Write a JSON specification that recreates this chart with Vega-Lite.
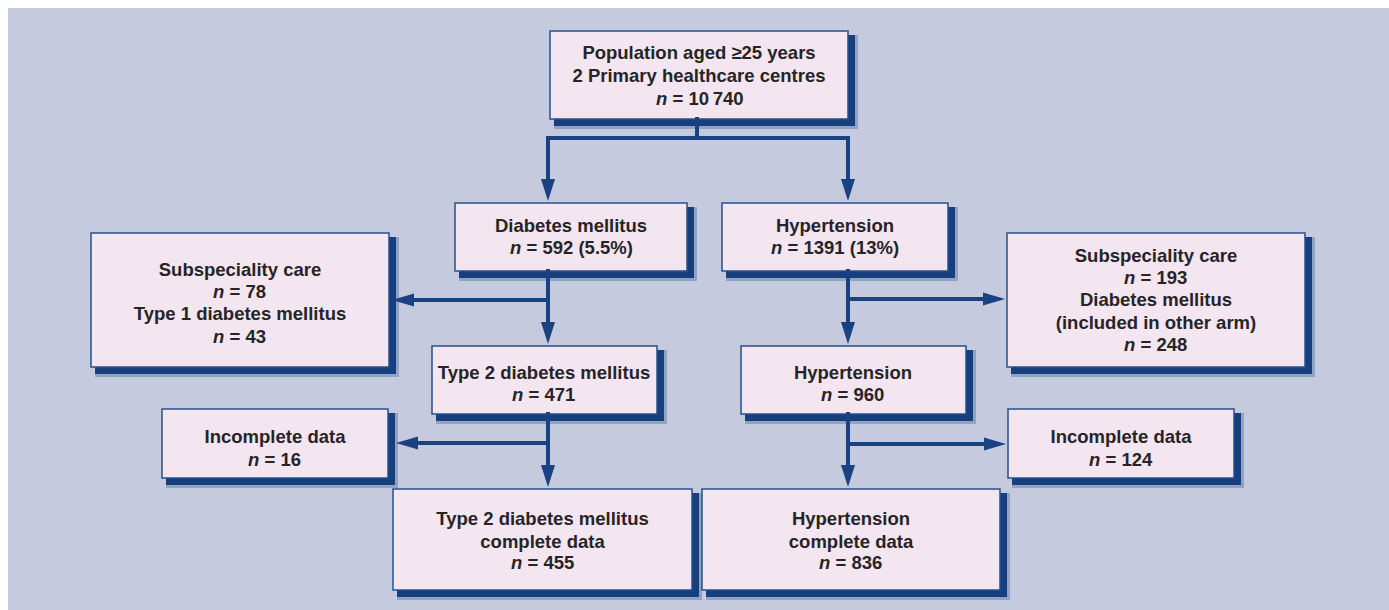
{
  "$schema": "https://vega.github.io/schema/vega-lite/v6.json",
  "width": 1389,
  "height": 610,
  "padding": 0,
  "autosize": {"type": "fit", "contains": "padding"},
  "background": "#ffffff",
  "config": {"view": {"stroke": null}},
  "datasets": {
    "panel": [{"x1": 8, "x2": 1389, "y1": 8, "y2": 610}],
    "boxes": [
      {"id": "A", "x1": 550, "x2": 848, "y1": 31, "y2": 119},
      {"id": "B", "x1": 455, "x2": 687, "y1": 203, "y2": 271},
      {"id": "C", "x1": 722, "x2": 948, "y1": 203, "y2": 271},
      {"id": "D", "x1": 91, "x2": 389, "y1": 233, "y2": 367},
      {"id": "E", "x1": 432, "x2": 657, "y1": 346, "y2": 414},
      {"id": "F", "x1": 741, "x2": 966, "y1": 346, "y2": 414},
      {"id": "G", "x1": 1007, "x2": 1305, "y1": 233, "y2": 367},
      {"id": "H", "x1": 162, "x2": 388, "y1": 409, "y2": 478},
      {"id": "I", "x1": 1008, "x2": 1234, "y1": 409, "y2": 478},
      {"id": "J", "x1": 393, "x2": 692, "y1": 489, "y2": 590},
      {"id": "K", "x1": 702, "x2": 1000, "y1": 489, "y2": 590}
    ],
    "lines": [
      {"x1": 697, "y1": 119, "x2": 697, "y2": 138},
      {"x1": 548, "y1": 138, "x2": 848, "y2": 138},
      {"x1": 548, "y1": 138, "x2": 548, "y2": 190},
      {"x1": 848, "y1": 138, "x2": 848, "y2": 190},
      {"x1": 548, "y1": 271, "x2": 548, "y2": 334},
      {"x1": 548, "y1": 300, "x2": 404, "y2": 300},
      {"x1": 848, "y1": 271, "x2": 848, "y2": 334},
      {"x1": 848, "y1": 299, "x2": 994, "y2": 299},
      {"x1": 548, "y1": 414, "x2": 548, "y2": 477},
      {"x1": 548, "y1": 443, "x2": 407, "y2": 443},
      {"x1": 848, "y1": 414, "x2": 848, "y2": 477},
      {"x1": 848, "y1": 444, "x2": 995, "y2": 444}
    ],
    "arrows": [
      {"x": 548, "y": 201, "dir": "down"},
      {"x": 848, "y": 201, "dir": "down"},
      {"x": 548, "y": 344, "dir": "down"},
      {"x": 848, "y": 344, "dir": "down"},
      {"x": 548, "y": 487, "dir": "down"},
      {"x": 848, "y": 487, "dir": "down"},
      {"x": 392, "y": 300, "dir": "left"},
      {"x": 396, "y": 443, "dir": "left"},
      {"x": 1005, "y": 299, "dir": "right"},
      {"x": 1006, "y": 444, "dir": "right"}
    ],
    "labels": [
      {"x": 699, "y": 53, "text": "Population aged ≥25 years"},
      {"x": 699, "y": 76, "text": "2 Primary healthcare centres"},
      {"x": 571, "y": 226, "text": "Diabetes mellitus"},
      {"x": 835, "y": 226, "text": "Hypertension"},
      {"x": 240, "y": 270, "text": "Subspeciality care"},
      {"x": 240, "y": 314, "text": "Type 1 diabetes mellitus"},
      {"x": 544, "y": 373, "text": "Type 2 diabetes mellitus"},
      {"x": 853, "y": 373, "text": "Hypertension"},
      {"x": 1156, "y": 256, "text": "Subspeciality care"},
      {"x": 1156, "y": 300, "text": "Diabetes mellitus"},
      {"x": 1156, "y": 323, "text": "(included in other arm)"},
      {"x": 275, "y": 437, "text": "Incomplete data"},
      {"x": 1121, "y": 437, "text": "Incomplete data"},
      {"x": 542.5, "y": 519, "text": "Type 2 diabetes mellitus"},
      {"x": 542.5, "y": 542, "text": "complete data"},
      {"x": 851, "y": 519, "text": "Hypertension"},
      {"x": 851, "y": 542, "text": "complete data"}
    ],
    "nlabels": [
      {"x": 656, "y": 99, "rest": "= 10\u2009740"},
      {"x": 510, "y": 248, "rest": "= 592 (5.5%)"},
      {"x": 771, "y": 248, "rest": "= 1391 (13%)"},
      {"x": 213, "y": 292, "rest": "= 78"},
      {"x": 213, "y": 337, "rest": "= 43"},
      {"x": 512, "y": 395, "rest": "= 471"},
      {"x": 821, "y": 395, "rest": "= 960"},
      {"x": 1124, "y": 278, "rest": "= 193"},
      {"x": 1124, "y": 345, "rest": "= 248"},
      {"x": 248, "y": 460, "rest": "= 16"},
      {"x": 1089, "y": 460, "rest": "= 124"},
      {"x": 511, "y": 563, "rest": "= 455"},
      {"x": 819, "y": 563, "rest": "= 836"}
    ]
  },
  "layer": [
    {
      "data": {"name": "panel"},
      "mark": {"type": "rect", "color": "#c5cadf"},
      "encoding": {
        "x": {"field": "x1", "type": "quantitative", "scale": {"domain": [0, 1389], "nice": false, "zero": false}, "axis": null},
        "x2": {"field": "x2"},
        "y": {"field": "y1", "type": "quantitative", "scale": {"domain": [0, 610], "nice": false, "zero": false, "reverse": true}, "axis": null},
        "y2": {"field": "y2"}
      }
    },
    {
      "data": {"name": "boxes"},
      "mark": {"type": "rect", "color": "#1b4583", "opacity": 0.3, "xOffset": 4, "x2Offset": 10, "yOffset": 4, "y2Offset": 10},
      "encoding": {
        "x": {"field": "x1", "type": "quantitative"},
        "x2": {"field": "x2"},
        "y": {"field": "y1", "type": "quantitative"},
        "y2": {"field": "y2"}
      }
    },
    {
      "data": {"name": "boxes"},
      "mark": {"type": "rect", "color": "#173f7d", "opacity": 1, "xOffset": 4, "x2Offset": 7, "yOffset": 4, "y2Offset": 7},
      "encoding": {
        "x": {"field": "x1", "type": "quantitative"},
        "x2": {"field": "x2"},
        "y": {"field": "y1", "type": "quantitative"},
        "y2": {"field": "y2"}
      }
    },
    {
      "data": {"name": "boxes"},
      "mark": {"type": "rect", "fill": "#f3e6f0", "stroke": "#24528c", "strokeWidth": 1.5},
      "encoding": {
        "x": {"field": "x1", "type": "quantitative"},
        "x2": {"field": "x2"},
        "y": {"field": "y1", "type": "quantitative"},
        "y2": {"field": "y2"}
      }
    },
    {
      "data": {"name": "lines"},
      "mark": {"type": "rule", "color": "#1a4280", "strokeWidth": 4, "strokeCap": "square"},
      "encoding": {
        "x": {"field": "x1", "type": "quantitative"},
        "x2": {"field": "x2"},
        "y": {"field": "y1", "type": "quantitative"},
        "y2": {"field": "y2"}
      }
    },
    {
      "data": {"name": "arrows"},
      "mark": {"type": "point", "filled": true, "opacity": 1, "size": 484, "color": "#1a4280", "strokeWidth": 0},
      "encoding": {
        "x": {"field": "x", "type": "quantitative"},
        "y": {"field": "y", "type": "quantitative"},
        "shape": {
          "field": "dir",
          "type": "nominal",
          "legend": null,
          "scale": {
            "domain": ["down", "left", "right"],
            "range": ["M 0 0 L -0.636 -2 L 0.636 -2 Z", "M 0 0 L 2 -0.6 L 2 0.6 Z", "M 0 0 L -2 -0.6 L -2 0.6 Z"]
          }
        }
      }
    },
    {
      "data": {"name": "labels"},
      "mark": {"type": "text", "font": "Liberation Sans", "fontWeight": "bold", "fontSize": 18.5, "color": "#262427", "align": "center", "baseline": "middle"},
      "encoding": {
        "x": {"field": "x", "type": "quantitative"},
        "y": {"field": "y", "type": "quantitative"},
        "text": {"field": "text"}
      }
    },
    {
      "data": {"name": "nlabels"},
      "mark": {"type": "text", "font": "Liberation Sans", "fontWeight": "bold", "fontStyle": "italic", "fontSize": 18.5, "color": "#262427", "align": "left", "baseline": "middle"},
      "encoding": {
        "x": {"field": "x", "type": "quantitative"},
        "y": {"field": "y", "type": "quantitative"},
        "text": {"value": "n"}
      }
    },
    {
      "data": {"name": "nlabels"},
      "mark": {"type": "text", "font": "Liberation Sans", "fontWeight": "bold", "fontSize": 18.5, "color": "#262427", "align": "left", "baseline": "middle", "dx": 16.5},
      "encoding": {
        "x": {"field": "x", "type": "quantitative"},
        "y": {"field": "y", "type": "quantitative"},
        "text": {"field": "rest"}
      }
    }
  ]
}
